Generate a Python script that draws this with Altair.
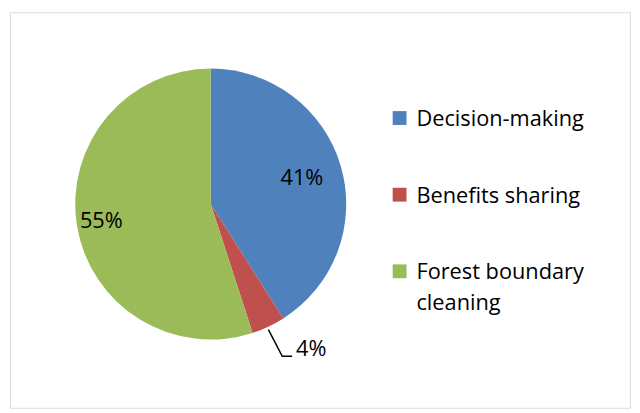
import math
import altair as alt
import pandas as pd

categories = ["Decision-making", "Benefits sharing", "Forest boundary cleaning"]
legend_lines = [["Decision-making"], ["Benefits sharing"], ["Forest boundary", "cleaning"]]
values = [41, 4, 55]
labels = ["41%", "4%", "55%"]
colors = ["#4F81BD", "#C0504D", "#9BBB59"]

W, H = 627, 400
CX, CY, R = 203, 194, 137
FONT = "Open Sans"
FS = 22

df = pd.DataFrame({"cat": categories, "val": values, "lab": labels, "ord": [0, 1, 2],
                   "leg": legend_lines})

color = alt.Color("cat:N", scale=alt.Scale(domain=categories, range=colors), legend=None)
theta = alt.Theta("val:Q", stack=True)
order = alt.Order("ord:Q")

pie = alt.Chart(df).mark_arc(radius=R, x=CX, y=CY).encode(theta=theta, order=order, color=color)

lab41 = alt.Chart(df).mark_text(radius=96, x=CX, y=CY, fontSize=FS, font=FONT, color="#000").encode(
    theta=theta, order=order,
    text=alt.condition(alt.datum.cat == categories[0], "lab:N", alt.value("")),
)
lab55 = alt.Chart(df).mark_text(radius=112, x=CX, y=CY, fontSize=FS, font=FONT, color="#000").encode(
    theta=theta, order=order,
    text=alt.condition(alt.datum.cat == categories[2], "lab:N", alt.value("")),
)

# leader line for the small slice, anchored at the slice's mid-angle
total = sum(values)
mid = (values[0] + values[1] / 2) / total * 2 * math.pi
sx = CX + R * math.sin(mid)
sy = CY - R * math.cos(mid) + 3
ex, ey = sx + 14, sy + 27
fx = ex + 10
pix_x = alt.Scale(domain=[0, W], range=[0, W])
pix_y = alt.Scale(domain=[0, H], range=[0, H])
leader_df = pd.DataFrame({"x": [sx, ex, fx], "y": [sy, ey, ey], "i": [0, 1, 2]})
leader = alt.Chart(leader_df).mark_line(color="#000000", strokeWidth=1.5).encode(
    x=alt.X("x:Q", scale=pix_x, axis=None),
    y=alt.Y("y:Q", scale=pix_y, axis=None),
    order="i:Q",
)
small_df = pd.DataFrame({"x": [fx + 4], "y": [ey - 7], "lab": [labels[1]]})
small = alt.Chart(small_df).mark_text(align="left", baseline="middle", fontSize=FS, font=FONT, color="#000").encode(
    x=alt.X("x:Q", scale=pix_x, axis=None),
    y=alt.Y("y:Q", scale=pix_y, axis=None),
    text="lab:N",
)

# legend built from categories
leg_y = alt.Scale(domain=categories, range=[107, 262], padding=0)
leg_sym = alt.Chart(df).mark_square(size=196, opacity=1, x=394).encode(
    y=alt.Y("cat:N", scale=leg_y, axis=None),
    color=color,
)
leg_txt = alt.Chart(df).mark_text(
    x=411, dy=8, align="left", baseline="alphabetic", fontSize=FS, font=FONT, color="#000", lineHeight=31
).encode(
    y=alt.Y("cat:N", scale=leg_y, axis=None),
    text="leg",
)
legend = alt.layer(leg_sym, leg_txt)

chart = alt.layer(pie, lab41, lab55, leader, small, legend).resolve_scale(
    y="independent", x="independent"
).properties(
    width=W, height=H, padding={"left": 2, "top": 2, "right": 2, "bottom": 2}
).configure_view(stroke="#7f7f7f", strokeWidth=2.5).configure(background="#ffffff")

chart.save("out.html", embed_options={"renderer": "svg", "actions": False})
